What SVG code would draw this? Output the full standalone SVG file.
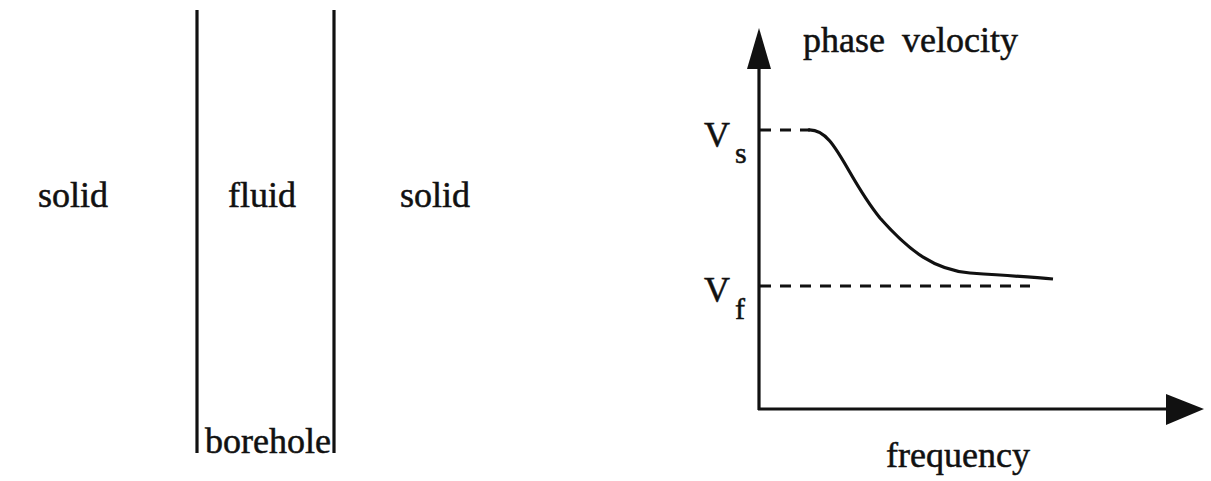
<svg xmlns="http://www.w3.org/2000/svg" width="1211" height="481" viewBox="0 0 1211 481">
<style>
text{font-family:"Liberation Serif","Times New Roman",serif;font-size:36px;fill:#111;stroke:#111;stroke-width:0.5}
.ln{stroke:#111;stroke-width:3.2;fill:none}
.dash{stroke:#111;stroke-width:3;fill:none;stroke-dasharray:11 9}
.sub{font-size:30px}
</style>
<rect width="1211" height="481" fill="#fff"/>
<g id="solid-left"><text x="38" y="207">solid</text></g>
<g id="borehole">
<line class="ln" x1="197" y1="10" x2="197" y2="453"/>
<line class="ln" x1="334" y1="10" x2="334" y2="453"/>
<text x="228" y="207">fluid</text>
<text x="205" y="453">borehole</text>
</g>
<g id="solid-right"><text x="400" y="207">solid</text></g>
<g id="axes">
<line class="ln" x1="759" y1="66" x2="759" y2="410"/>
<polygon points="759,28 747,69 771,69" fill="#111"/>
<line class="ln" x1="758" y1="409" x2="1168" y2="409"/>
<polygon points="1204,409 1166,394 1166,425" fill="#111"/>
<text x="803" y="52" word-spacing="8">phase velocity</text>
<text x="958" y="467" text-anchor="middle" font-size="35">frequency</text>
</g>
<g id="labels">
<text x="704" y="147">V</text><text class="sub" x="735" y="163">s</text>
<text x="704" y="302">V</text><text class="sub" x="735" y="319">f</text>
</g>
<g id="connectors">
<line class="dash" x1="760" y1="130" x2="810" y2="130"/>
<line class="dash" x1="760" y1="286" x2="1030" y2="286"/>
<path class="ln" d="M808 130 C835 128,845 175,880 218 C910 252,935 270,970 273 C1000 275,1030 277,1053 279"/>
</g>
</svg>
